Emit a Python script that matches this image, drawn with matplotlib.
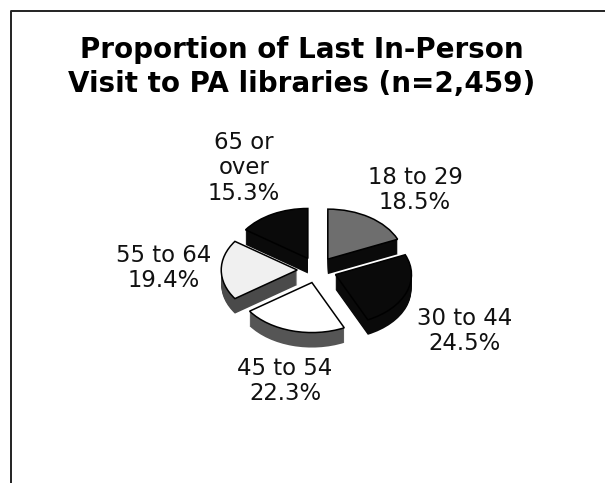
import matplotlib
matplotlib.use("Agg")
import matplotlib.pyplot as plt

W, H = 605, 483

labels = ["18 to 29\n18.5%", "30 to 44\n24.5%", "45 to 54\n22.3%", "55 to 64\n19.4%", "65 or\nover\n15.3%"]
shares = [18.5, 24.5, 22.3, 19.4, 15.3]
top_colors = ["#6e6e6e", "#0a0a0a", "#ffffff", "#f0f0f0", "#0a0a0a"]
side_colors = ["#0a0a0a", "#0a0a0a", "#555555", "#4a4a4a", "#0a0a0a"]
explode = [0.26, 0.26, 0.26, 0.26, 0.26]
label_x = [415, 465, 285, 164, 244]
label_y = [190, 331, 381, 268, 168]

fig = plt.figure(figsize=(W / 100, H / 100), dpi=100)

# frame of the slide, only left and top are visible
bg = fig.add_axes([0, 0, 1, 1])
bg.set_xlim(0, W)
bg.set_ylim(H, 0)
bg.axis("off")
bg.plot([11, 11, W], [H, 11, 11], color="#222222", lw=1.4)

bg.text(302, 67, "Proportion of Last In-Person\nVisit to PA libraries (n=2,459)",
        family="DejaVu Sans", fontsize=20, fontweight="bold", ha="center", va="center",
        linespacing=1.3, color="black")

for lab, x, y in zip(labels, label_x, label_y):
    bg.text(x, y, lab, family="DejaVu Sans", fontsize=16.4, ha="center", va="center",
            linespacing=1.15, color="#111111")

# squashed pie, the thickness is the same pie drawn a few times lower
ax = fig.add_axes([222 / W, 1 - 350 / H, 190 / W, 150 / H])
for i in range(15, 0, -1):
    wedges, _ = ax.pie(shares, explode=explode, colors=side_colors, startangle=90,
                       counterclock=False, center=(0, -i * 0.02), radius=1)
    for w in wedges:
        w.set_edgecolor("none")
wedges, _ = ax.pie(shares, explode=explode, colors=top_colors, startangle=90,
                   counterclock=False, radius=1,
                   wedgeprops={"edgecolor": "black", "linewidth": 1.1})
ax.set_aspect("auto")
ax.set_xlim(-1.25, 1.25)
ax.set_ylim(-1.6, 1.4)

fig.savefig("out.png", dpi=100, facecolor="white")
